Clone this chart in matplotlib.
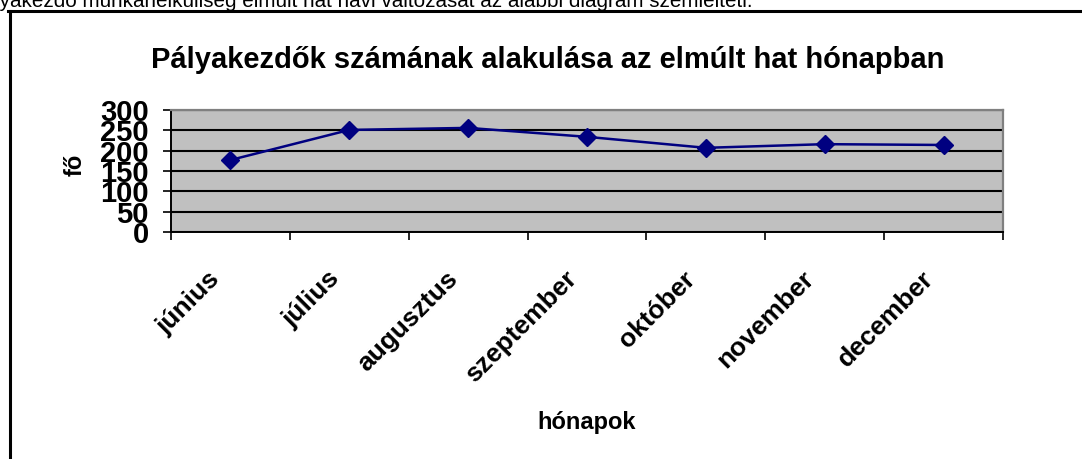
import numpy as np
import matplotlib
matplotlib.use("Agg")
import matplotlib.pyplot as plt
from matplotlib.lines import Line2D
from matplotlib.transforms import ScaledTranslation

plt.rcParams['font.family'] = ['Liberation Sans', 'DejaVu Sans']

# data
honapok = ['június', 'július', 'augusztus', 'szeptember', 'október', 'november', 'december']
fo = [177, 251, 256, 234, 207, 216, 214]

cim = 'Pályakezdők számának alakulása az elmúlt hat hónapban'
felso_szoveg = 'pályakezdő munkanélküliség elmúlt hat havi változását az alábbi diagram szemlélteti.'

W, H = 1082, 459
fig = plt.figure(figsize=(W / 100, H / 100), dpi=100)
fig.patch.set_facecolor('white')

# text line above the box (cut off at top)
fig.text(753 / W, 1 - 7 / H, felso_szoveg, ha='right', va='baseline', fontsize=14.9)

# the chart box (only top and left visible)
fig.add_artist(Line2D([8 / W, 1.0], [1 - 11 / H, 1 - 11 / H], transform=fig.transFigure,
                      color='black', lw=2.2))
fig.add_artist(Line2D([9.5 / W, 9.5 / W], [1 - 11 / H, 0], transform=fig.transFigure,
                      color='black', lw=2.2))

ax = fig.add_axes([171 / W, 1 - 232 / H, (1003 - 171) / W, (232 - 110) / H])
ax.set_facecolor('#C0C0C0')

x = np.arange(len(honapok)) + 0.5
ax.plot(x, fo, color='#000080', lw=1.8, marker='D', ms=9, zorder=3)

ax.set_xlim(0, len(honapok))
ax.set_ylim(0, 300)
ax.set_yticks(np.arange(0, 301, 50))
ax.yaxis.grid(True, color='black', lw=1.5)
ax.set_axisbelow(True)

ax.set_xticks(np.arange(0, len(honapok) + 1))
ax.set_xticklabels([])
ax.set_xticks(x, minor=True)
ax.set_xticklabels(honapok, minor=True, rotation=45, ha='right', va='center',
                   rotation_mode='anchor', fontsize=19, fontweight='bold')
ax.tick_params(axis='x', which='minor', length=0, pad=31)
ax.tick_params(axis='x', which='major', length=6, width=1.2, direction='out')
ax.tick_params(axis='y', length=6, width=1.2, direction='out', labelsize=21, pad=10)
for t in ax.get_yticklabels():
    t.set_fontweight('bold')
shift = ScaledTranslation(-14 / 100, 0, fig.dpi_scale_trans)
for t in ax.get_xticklabels(minor=True):
    t.set_transform(t.get_transform() + shift)

for s in ['left', 'bottom']:
    ax.spines[s].set_color('black')
    ax.spines[s].set_linewidth(1.4)
for s in ['top', 'right']:
    ax.spines[s].set_color('#808080')
    ax.spines[s].set_linewidth(1.6)

fig.text(548 / W, 1 - 60 / H, cim, ha='center', va='center', fontsize=21, fontweight='bold')
fig.text(587 / W, 1 - 423 / H, 'hónapok', ha='center', va='center', fontsize=17, fontweight='bold')
fig.text(75 / W, 1 - 165 / H, 'fő', ha='center', va='center', rotation=90, fontsize=17,
         fontweight='bold')

fig.savefig('out.png', dpi=100)
